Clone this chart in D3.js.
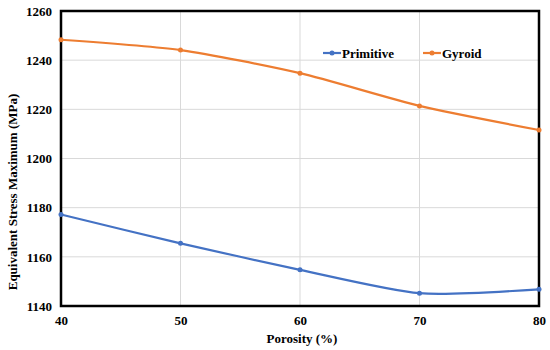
<!DOCTYPE html>
<html>
<head>
<meta charset="utf-8">
<script src="https://cdn.jsdelivr.net/npm/d3@7"></script>
<style>
  body { margin: 0; background: white; }
  svg text { font-family: 'Liberation Serif', 'Times New Roman', serif; font-weight: bold; }
</style>
</head>
<body>
<div id="chart"></div>
<script>
var porosity = [40, 50, 60, 70, 80];
var primitive = [1177.2, 1165.5, 1154.7, 1145.2, 1146.8];
var gyroid = [1248.3, 1244.1, 1234.7, 1221.4, 1211.6];
var xTicks = [40, 50, 60, 70, 80];
var yTicks = [1140, 1160, 1180, 1200, 1220, 1240, 1260];

var seriesList = [
  {name: 'Primitive', values: primitive, color: '#4472C4'},
  {name: 'Gyroid', values: gyroid, color: '#ED7D31'}
];

var serif = "'Liberation Serif', 'Times New Roman', serif";

var g = {fullWidth: 550, fullHeight: 350};
g.margin = {top: 11, right: 11, bottom: 44, left: 61};
g.width = g.fullWidth - g.margin.left - g.margin.right;
g.height = g.fullHeight - g.margin.top - g.margin.bottom;

g.x = d3.scaleLinear().range([0, g.width]).domain([40, 80]);
g.y = d3.scaleLinear().range([g.height, 0]).domain([1140, 1260]);

var svg = d3.select('#chart')
  .append('svg')
    .attr('width', g.fullWidth)
    .attr('height', g.fullHeight)
  .append('g')
    .attr('transform', 'translate(' + g.margin.left + ',' + g.margin.top + ')');

// grid
svg.append('g').selectAll('line').data(yTicks)
  .enter().append('line')
  .attr('x1', 0).attr('x2', g.width)
  .attr('y1', function(d) { return g.y(d); })
  .attr('y2', function(d) { return g.y(d); })
  .attr('stroke', '#d9d9d9').attr('stroke-width', 1);

svg.append('g').selectAll('line').data(xTicks)
  .enter().append('line')
  .attr('y1', 0).attr('y2', g.height)
  .attr('x1', function(d) { return g.x(d); })
  .attr('x2', function(d) { return g.x(d); })
  .attr('stroke', '#d9d9d9').attr('stroke-width', 1);

// axes tick labels
g.xAxis = d3.axisBottom(g.x).tickValues(xTicks).tickFormat(d3.format('d')).tickSize(0).tickPadding(10);
g.yAxis = d3.axisLeft(g.y).tickValues(yTicks).tickFormat(d3.format('d')).tickSize(0).tickPadding(9);

var xa = svg.append('g')
  .attr('class', 'x axis')
  .attr('transform', 'translate(0,' + g.height + ')')
  .call(g.xAxis);
var ya = svg.append('g')
  .attr('class', 'y axis')
  .call(g.yAxis);
[xa, ya].forEach(function(a) {
  a.select('.domain').remove();
  a.selectAll('text')
    .style('font-family', serif)
    .style('font-weight', 'bold')
    .style('font-size', '13px')
    .attr('fill', '#000');
});

// plot border
svg.append('rect')
  .attr('x', 0).attr('y', 0)
  .attr('width', g.width).attr('height', g.height)
  .attr('fill', 'none')
  .attr('stroke', '#000')
  .attr('stroke-width', 2.5);

// lines
var line = d3.line()
  .x(function(d, i) { return g.x(porosity[i]); })
  .y(function(d) { return g.y(d); })
  .curve(d3.curveCardinal.tension(0.3));

seriesList.forEach(function(s) {
  svg.append('path')
    .attr('d', line(s.values))
    .attr('fill', 'none')
    .attr('stroke', s.color)
    .attr('stroke-width', 2.2);
  svg.append('g').selectAll('circle').data(s.values)
    .enter().append('circle')
    .attr('cx', function(d, i) { return g.x(porosity[i]); })
    .attr('cy', function(d) { return g.y(d); })
    .attr('r', 2.5)
    .attr('fill', s.color);
});

// legend
var legend = svg.append('g')
  .attr('transform', 'translate(' + (323 - g.margin.left) + ',' + (53 - g.margin.top) + ')');
seriesList.forEach(function(s, i) {
  var lg = legend.append('g').attr('transform', 'translate(' + (i * 100) + ',0)');
  lg.append('line')
    .attr('x1', 0).attr('x2', 18)
    .attr('y1', 0).attr('y2', 0)
    .attr('stroke', s.color).attr('stroke-width', 2.2);
  lg.append('circle')
    .attr('cx', 9).attr('cy', 0).attr('r', 2.5)
    .attr('fill', s.color);
  lg.append('text')
    .attr('x', 19).attr('y', 4.5)
    .style('font-family', serif)
    .style('font-weight', 'bold')
    .style('font-size', '13px')
    .text(s.name);
});

// axis titles
svg.append('text')
  .attr('x', g.width / 2 + 2)
  .attr('y', g.height + 37)
  .attr('text-anchor', 'middle')
  .style('font-family', serif)
  .style('font-weight', 'bold')
  .style('font-size', '13px')
  .text('Porosity (%)');

svg.append('text')
  .attr('transform', 'translate(' + (-44) + ',' + (181) + ') rotate(-90)')
  .attr('text-anchor', 'middle')
  .style('font-family', serif)
  .style('font-weight', 'bold')
  .style('font-size', '13px')
  .text('Equivalent Stress Maximum (MPa)');
</script>
</body>
</html>
